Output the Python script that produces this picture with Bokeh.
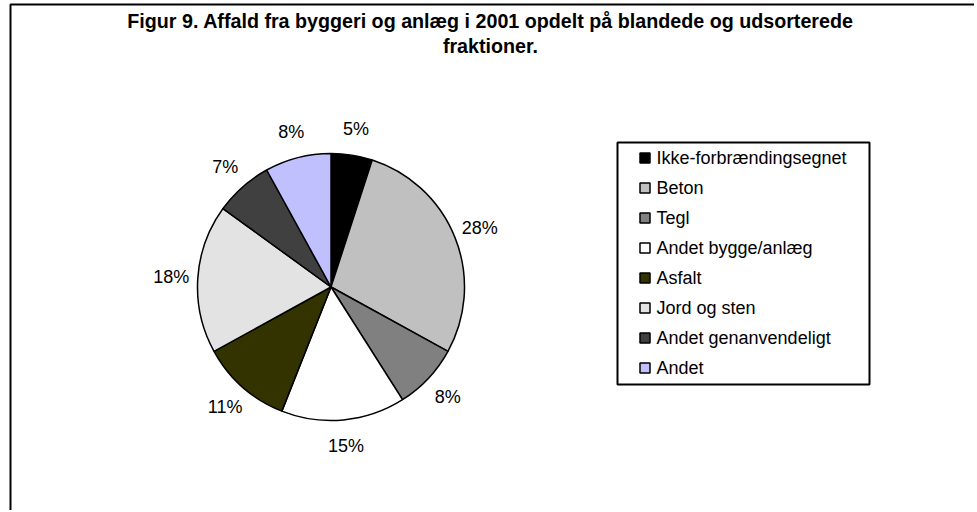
import numpy as np
from bokeh.plotting import figure
from bokeh.models import Range1d, ColumnDataSource
from bokeh.core.properties import value
from bokeh.embed import file_html
from bokeh.resources import INLINE

# ---- data ----
categories = ["Ikke-forbrændingsegnet", "Beton", "Tegl", "Andet bygge/anlæg",
              "Asfalt", "Jord og sten", "Andet genanvendeligt", "Andet"]
shares = [5, 28, 8, 15, 11, 18, 7, 8]
colors = ["#000000", "#C0C0C0", "#808080", "#FFFFFF",
          "#333300", "#E3E3E3", "#404040", "#C0C0FF"]
title_lines = ["Figur 9. Affald fra byggeri og anlæg i 2001 opdelt på blandede og udsorterede",
               "fraktioner."]

# ---- layout (coordinates chosen so data units equal screen pixels) ----
W, H = 974, 510
LEFT, TOP = 1, 1          # observed screen offset of the figure
FONT = "Liberation Sans"


def X(px):
    return px


def Y(py):
    return TOP + H - py


cx, cy, r = X(331.5), Y(287.5), 133.5
label_r = 160

vals = np.array(shares, dtype=float)
frac = vals / vals.sum()
cum_end = np.cumsum(frac)
cum_start = cum_end - frac
start = np.pi / 2 - 2 * np.pi * cum_start
end = np.pi / 2 - 2 * np.pi * cum_end
mid = np.pi / 2 - 2 * np.pi * (cum_start + frac / 2)

src = ColumnDataSource(dict(
    cat=categories, share=shares, color=colors,
    start=start, end=end,
    lx=cx + label_r * np.cos(mid), ly=cy + label_r * np.sin(mid),
    label=[f"{v:g}%" for v in shares],
))

p = figure(width=W, height=H, output_backend="svg", toolbar_location=None,
           x_range=Range1d(LEFT, LEFT + W), y_range=Range1d(0, H),
           min_border=0, background_fill_color="white", border_fill_color="white")
p.axis.visible = False
p.grid.visible = False
p.outline_line_color = None

# outer chart frame (top and left visible, rest cropped in reference)
p.line(x=[X(11), X(11), LEFT + W], y=[0, Y(5), Y(5)], line_color="black", line_width=2)

# pie
p.wedge(x=cx, y=cy, radius=r, start_angle="start", end_angle="end",
        direction="clock", fill_color="color", line_color="black",
        line_width=1.5, source=src)

# percentage labels
p.text(x="lx", y="ly", text="label", source=src, text_align="center",
       text_baseline="middle", text_font=value(FONT), text_font_size="18px",
       text_color="black")

# title
p.text(x=[X(491), X(491)], y=[Y(21), Y(46)], text=title_lines, text_align="center",
       text_baseline="middle", text_font=value(FONT), text_font_size="19.7px",
       text_font_style="bold", text_color="black")

# legend box
p.quad(left=X(618), right=X(870), top=Y(143), bottom=Y(385), fill_color="white",
       line_color="black", line_width=2)
row_y = [Y(158.5 + 30 * i) for i in range(len(categories))]
p.rect(x=X(645.5), y=row_y, width=10, height=10, fill_color=colors,
       line_color="black", line_width=1.5)
p.text(x=X(657), y=row_y, text=categories, text_align="left",
       text_baseline="middle", text_font=value(FONT), text_font_size="18px",
       text_color="black")

open("out.html", "w").write(file_html(p, INLINE))
